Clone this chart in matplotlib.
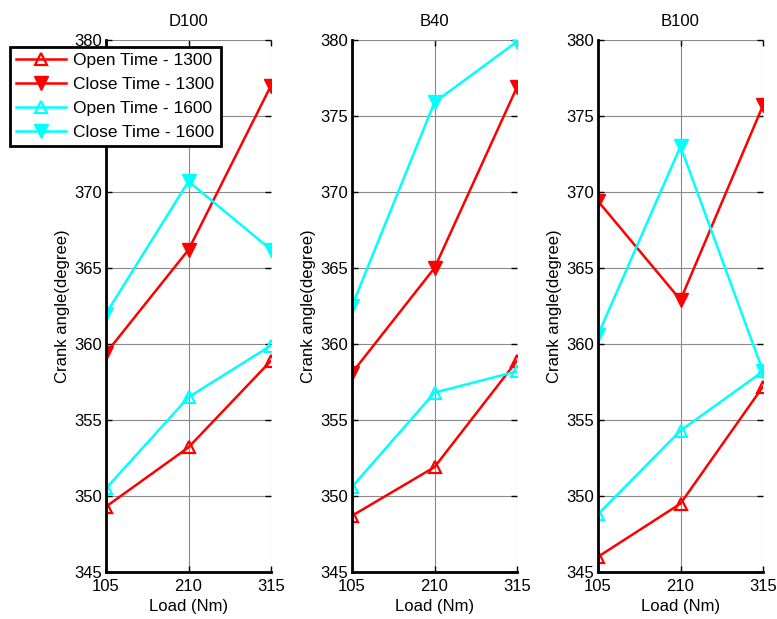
import matplotlib
matplotlib.use("Agg")
import matplotlib.pyplot as plt

plt.rcParams['font.family'] = ['Liberation Sans', 'DejaVu Sans']

loads = [105, 210, 315]
fuels = ["D100", "B40", "B100"]

open_1300 = {
    "D100": [349.3, 353.2, 358.9],
    "B40": [348.7, 351.9, 358.9],
    "B100": [346.0, 349.5, 357.2],
}
close_1300 = {
    "D100": [359.4, 366.2, 377.0],
    "B40": [358.1, 365.0, 376.9],
    "B100": [369.4, 362.9, 375.7],
}
open_1600 = {
    "D100": [350.5, 356.5, 359.9],
    "B40": [350.6, 356.8, 358.2],
    "B100": [348.8, 354.3, 358.2],
}
close_1600 = {
    "D100": [362.0, 370.7, 366.2],
    "B40": [362.5, 375.9, 379.9],
    "B100": [360.6, 373.0, 358.2],
}

W, H = 777, 619
fig = plt.figure(figsize=(W / 100, H / 100), dpi=100)

lefts = [106, 352, 598]
panel_w = 165
top, bottom = 40, 572

axes = []
for i, fuel in enumerate(fuels):
    ax = fig.add_axes([lefts[i] / W, 1 - bottom / H, panel_w / W, (bottom - top) / H])
    axes.append(ax)
    ax.plot(loads, open_1300[fuel], color='red', lw=1.8, marker='^', ms=9,
            mfc='none', mec='red', mew=1.6, label='Open Time - 1300')
    ax.plot(loads, close_1300[fuel], color='red', lw=1.8, marker='v', ms=10,
            mfc='red', mec='red', label='Close Time - 1300')
    ax.plot(loads, open_1600[fuel], color='cyan', lw=1.8, marker='^', ms=9,
            mfc='none', mec='cyan', mew=1.6, label='Open Time - 1600')
    ax.plot(loads, close_1600[fuel], color='cyan', lw=1.8, marker='v', ms=10,
            mfc='cyan', mec='cyan', label='Close Time - 1600')
    ax.set_xlim(105, 315)
    ax.set_ylim(345, 380)
    ax.set_xticks(loads)
    ax.set_yticks(range(345, 381, 5))
    ax.grid(True, color='#8a8a8a', lw=0.8)
    ax.set_axisbelow(True)
    for s in ('top', 'right'):
        ax.spines[s].set_visible(False)
    for s in ('left', 'bottom'):
        ax.spines[s].set_linewidth(2)
        ax.spines[s].set_color('black')
    ax.tick_params(direction='in', top=True, right=True, length=4,
                   labelsize=12, width=1)
    ax.tick_params(axis='x', pad=5)
    ax.tick_params(axis='y', pad=3)
    ax.set_title(fuel, fontsize=12, pad=10)
    ax.set_xlabel('Load (Nm)', fontsize=12, labelpad=4)
    ax.set_ylabel('Crank angle(degree)', fontsize=12, labelpad=3)

leg = axes[0].legend(loc='upper left', bbox_to_anchor=(10 / W, 1 - 47 / H),
                     bbox_transform=fig.transFigure, fontsize=12.5, frameon=True,
                     fancybox=False, framealpha=1, edgecolor='black',
                     borderpad=0.35, labelspacing=0.5, handlelength=2.9,
                     handletextpad=0.4, borderaxespad=0)
leg.get_frame().set_linewidth(2)

fig.savefig('out.png', dpi=100, facecolor='white')
